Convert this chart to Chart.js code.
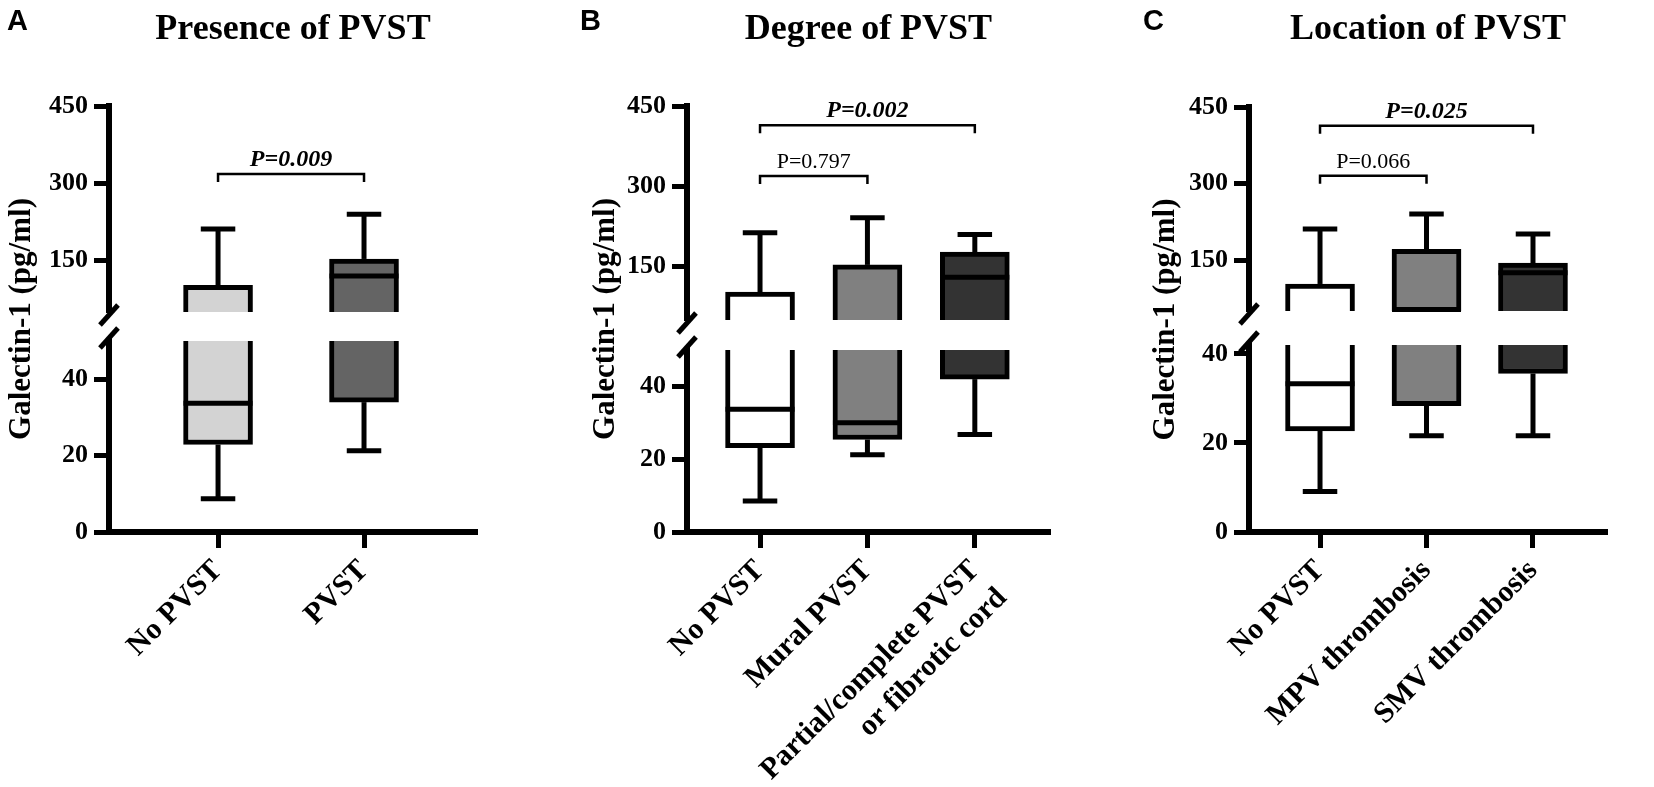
<!DOCTYPE html>
<html>
<head>
<meta charset="utf-8">
<title>Galectin-1 and PVST</title>
<script src="https://cdn.jsdelivr.net/npm/chart.js@4.4.1/dist/chart.umd.min.js"></script>
<style>
  html, body { margin: 0; padding: 0; background: #fff; }
  #wrap { position: relative; width: 1654px; height: 787px; overflow: hidden; }
  #wrap canvas { position: absolute; top: 0; }
</style>
</head>
<body>
<div id="wrap">
  <canvas id="panelA" width="545" height="787" style="left:0px"></canvas>
  <canvas id="panelB" width="550" height="787" style="left:545px"></canvas>
  <canvas id="panelC" width="559" height="787" style="left:1095px"></canvas>
</div>
<script>
// Galectin-1 box plots (pg/ml)

// shared y ticks for the broken axis
const upperTicks = [150, 300, 450];
const lowerTicks = [0, 20, 40];
const yTitle = 'Galectin-1 (pg/ml)';

// A - presence of PVST
const catsA = ['No PVST', 'PVST'];
const minA = [8.7, 21.3];
const q1A = [22.9, 34.0];
const medA = [33.7, 120];
const q3A = [102, 153];
const maxA = [211, 240];
const pairsA = [[0, 1]];
const pA = [0.009];

// B - degree of PVST
const catsB = ['No PVST', 'Mural PVST', ['Partial/complete PVST', 'or fibrotic cord']];
const minB = [8.5, 21.2, 26.8];
const q1B = [23.2, 25.4, 42.0];
const medB = [33.7, 30.0, 130];
const q3B = [102, 153, 177];
const maxB = [213, 241, 210];
const pairsB = [[0, 1], [0, 2]];
const pB = [0.797, 0.002];

// C - location of PVST
const catsC = ['No PVST', 'MPV thrombosis', 'SMV thrombosis'];
const minC = [9.1, 21.6, 21.6];
const q1C = [22.7, 28.4, 35.6];
const medC = [33.3, 53, 125];
const q3C = [103, 171, 144];
const maxC = [211, 240, 201];
const pairsC = [[0, 1], [0, 2]];
const pC = [0.066, 0.025];

// layout / styling per panel
const SERIF = '"Liberation Serif", "Times New Roman", serif';
const SANS = '"Liberation Sans", Arial, sans-serif';
const BOX_W = 69;
const H = 787;

const panels = [
    {
        canvas: 'panelA', letter: 'A', letterX: 7, title: 'Presence of PVST',
        left: 109, right: 68, top: 106, bottom: 532,
        xMin: -0.747, xMax: 1.774,
        upper: [50, 450], lower: [0, 50], weights: [206, 29, 191],
        fills: ['#d3d3d3', '#646464'], bracketY: [318], titleOffset: 87,
        d: { cats: catsA, min: minA, q1: q1A, med: medA, q3: q3A, max: maxA, pairs: pairsA, p: pA }
    },
    {
        canvas: 'panelB', letter: 'B', letterX: 35, title: 'Degree of PVST',
        left: 142, right: 45, top: 106, bottom: 532,
        xMin: -0.68, xMax: 2.70,
        upper: [50, 450], lower: [0, 50], weights: [214, 30, 182],
        fills: ['#ffffff', '#808080', '#333333'], bracketY: [319, 414], titleOffset: 81,
        d: { cats: catsB, min: minB, q1: q1B, med: medB, q3: q3B, max: maxB, pairs: pairsB, p: pB }
    },
    {
        canvas: 'panelC', letter: 'C', letterX: 48, title: 'Location of PVST',
        left: 154, right: 47, top: 107, bottom: 532,
        xMin: -0.667, xMax: 2.695,
        upper: [50, 450], lower: [0, 42], weights: [204, 34, 187],
        fills: ['#ffffff', '#808080', '#333333'], bracketY: [315, 413], titleOffset: 83,
        d: { cats: catsC, min: minC, q1: q1C, med: medC, q3: q3C, max: maxC, pairs: pairsC, p: pC }
    }
];

function line(ctx, x1, y1, x2, y2) {
    ctx.beginPath();
    ctx.moveTo(x1, y1);
    ctx.lineTo(x2, y2);
    ctx.stroke();
}

// whiskers, medians, axis break marks and annotations
function boxDecor(cfg) {
    const d = cfg.d;
    const upMin = cfg.upper[0];
    return {
        id: 'boxDecor',
        afterDatasetsDraw(chart) {
            const { ctx, scales: { x, yUp, yLow } } = chart;
            const yOf = v => (v >= upMin ? yUp.getPixelForValue(v) : yLow.getPixelForValue(v));
            const half = BOX_W / 2, cap = BOX_W / 4;
            ctx.save();
            ctx.strokeStyle = '#000';
            ctx.lineWidth = 5;
            ctx.lineCap = 'butt';
            d.cats.forEach((c, i) => {
                const px = x.getPixelForValue(i);
                const yMax = yOf(d.max[i]), yMin = yOf(d.min[i]);
                line(ctx, px, yOf(d.q3[i]), px, yMax);
                line(ctx, px - cap, yMax, px + cap, yMax);
                line(ctx, px, yOf(d.q1[i]), px, yMin);
                line(ctx, px - cap, yMin, px + cap, yMin);
                const yMed = yOf(d.med[i]);
                line(ctx, px - half, yMed, px + half, yMed);
            });
            ctx.restore();
        },
        afterDraw(chart) {
            const { ctx, chartArea, scales: { x, yUp, yLow } } = chart;
            ctx.save();
            ctx.strokeStyle = '#000';
            ctx.fillStyle = '#000';

            // break marks on the y axis
            ctx.lineWidth = 5;
            const ax = chartArea.left;
            [yUp.bottom + 3, yLow.top - 3].forEach(y => line(ctx, ax - 9, y + 10, ax + 9, y - 10));

            // significance brackets
            d.pairs.forEach(([from, to], k) => {
                const y = yUp.getPixelForValue(cfg.bracketY[k]);
                const x1 = x.getPixelForValue(from), x2 = x.getPixelForValue(to);
                ctx.lineWidth = 2.5;
                ctx.beginPath();
                ctx.moveTo(x1, y + 8);
                ctx.lineTo(x1, y);
                ctx.lineTo(x2, y);
                ctx.lineTo(x2, y + 8);
                ctx.stroke();
                const sig = d.p[k] < 0.05;
                ctx.font = sig ? `italic bold 24px ${SERIF}` : `22px ${SERIF}`;
                ctx.textAlign = 'center';
                ctx.textBaseline = 'alphabetic';
                ctx.fillText('P=' + d.p[k].toFixed(3), (x1 + x2) / 2, y - 8);
            });

            // y axis title
            ctx.save();
            ctx.translate(chartArea.left - cfg.titleOffset, (chartArea.top + chartArea.bottom) / 2);
            ctx.rotate(-Math.PI / 2);
            ctx.font = `bold 31px ${SERIF}`;
            ctx.textAlign = 'center';
            ctx.textBaseline = 'middle';
            ctx.fillText(yTitle, 0, 0);
            ctx.restore();

            // panel letter
            ctx.font = `bold 29px ${SANS}`;
            ctx.textAlign = 'left';
            ctx.textBaseline = 'top';
            ctx.fillText(cfg.letter, cfg.letterX, 7);
            ctx.restore();
        }
    };
}

function makePanel(cfg) {
    const d = cfg.d;
    const [upMin, upMax] = cfg.upper;
    const [lowMin, lowMax] = cfg.lower;
    const idx = d.cats.map((c, i) => i);
    const tickFont = { family: SERIF, size: 26, weight: 'bold' };
    const yGrid = { drawOnChartArea: false, tickLength: 15, tickWidth: 5, tickColor: '#000' };
    const yBorder = { display: true, color: '#000', width: 6 };

    new Chart(document.getElementById(cfg.canvas), {
        type: 'bar',
        data: {
            datasets: [
                {
                    // part of each box above the break
                    data: idx.map(i => ({ x: i, y: [Math.max(d.q1[i], upMin), d.q3[i]] })),
                    yAxisID: 'yUp',
                    backgroundColor: cfg.fills,
                    borderColor: '#000',
                    borderWidth: 5,
                    borderSkipped: ctx => (d.q1[ctx.dataIndex] < upMin ? 'bottom' : false),
                    barThickness: BOX_W,
                    grouped: false
                },
                {
                    // part below the break
                    data: idx.map(i => ({ x: i, y: [d.q1[i], Math.min(d.q3[i], lowMax)] })),
                    yAxisID: 'yLow',
                    backgroundColor: cfg.fills,
                    borderColor: '#000',
                    borderWidth: 5,
                    borderSkipped: ctx => (d.q3[ctx.dataIndex] > lowMax ? 'top' : false),
                    barThickness: BOX_W,
                    grouped: false
                }
            ]
        },
        options: {
            responsive: false,
            animation: false,
            events: [],
            layout: { padding: { left: 0, right: cfg.right, top: 0, bottom: 0 } },
            plugins: {
                legend: { display: false },
                tooltip: { enabled: false },
                title: {
                    display: true,
                    text: cfg.title,
                    color: '#000',
                    fullSize: false,
                    font: { family: SERIF, size: 36, weight: 'bold', lineHeight: 1.2 },
                    padding: { top: 8, bottom: cfg.top - 8 - 36 * 1.2 }
                }
            },
            scales: {
                x: {
                    type: 'linear',
                    position: 'bottom',
                    offset: false,
                    min: cfg.xMin,
                    max: cfg.xMax,
                    afterBuildTicks: s => { s.ticks = idx.map(v => ({ value: v })); },
                    afterFit: s => { s.height = H - cfg.bottom; },
                    grid: { offset: false, drawOnChartArea: false, tickLength: 16, tickWidth: 5, tickColor: '#000' },
                    border: yBorder,
                    ticks: {
                        callback: v => d.cats[v],
                        color: '#000',
                        font: { family: SERIF, size: 30, weight: 'bold', lineHeight: 1.3 },
                        minRotation: 45,
                        maxRotation: 45,
                        autoSkip: false,
                        padding: 4
                    }
                },
                yUp: {
                    type: 'linear',
                    position: 'left',
                    stack: 'galectin',
                    stackWeight: cfg.weights[0],
                    weight: 3,
                    min: upMin,
                    max: upMax,
                    afterBuildTicks: s => { s.ticks = upperTicks.map(v => ({ value: v })); },
                    afterFit: s => { s.width = cfg.left; },
                    grid: yGrid,
                    border: yBorder,
                    ticks: { color: '#000', font: tickFont, padding: 6 }
                },
                yGap: {
                    type: 'linear',
                    position: 'left',
                    stack: 'galectin',
                    stackWeight: cfg.weights[1],
                    weight: 2,
                    min: 0,
                    max: 1,
                    afterFit: s => { s.width = cfg.left; },
                    grid: { display: false },
                    border: { display: false },
                    ticks: { display: false }
                },
                yLow: {
                    type: 'linear',
                    position: 'left',
                    stack: 'galectin',
                    stackWeight: cfg.weights[2],
                    weight: 1,
                    min: lowMin,
                    max: lowMax,
                    afterBuildTicks: s => { s.ticks = lowerTicks.map(v => ({ value: v })); },
                    afterFit: s => { s.width = cfg.left; },
                    grid: yGrid,
                    border: yBorder,
                    ticks: { color: '#000', font: tickFont, padding: 6 }
                }
            }
        },
        plugins: [boxDecor(cfg)]
    });
}

panels.forEach(makePanel);
</script>
</body>
</html>
